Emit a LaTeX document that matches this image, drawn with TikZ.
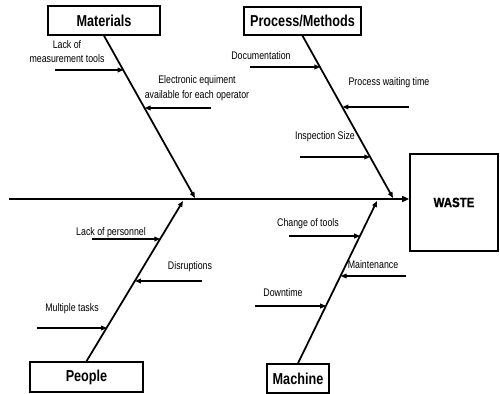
\documentclass[tikz,border=0pt]{standalone}
\usepackage{fontspec}
\setmainfont{Liberation Sans}
\newfontfamily\narrowfont{Liberation Sans}[FakeStretch=0.8]
\newfontfamily\heavyfont{Liberation Sans Bold}[FakeStretch=0.85,FakeBold=1.2]
\usetikzlibrary{arrows.meta}

\begin{document}
\begin{tikzpicture}[x=0.03cm,y=-0.03cm]
\tikzstyle{every node}+=[inner sep=0pt]
\tikzstyle{catbox}=[draw=black,line width=1.3pt,font=\narrowfont\bfseries\fontsize{13.5}{15}\selectfont]
\tikzstyle{bone}=[line width=1.5pt,-{Triangle[length=5pt,width=4pt]}]
\tikzstyle{cause}=[line width=1pt,-{Triangle[length=5pt,width=4pt]}]
\tikzstyle{lbl}=[align=center,font=\narrowfont\fontsize{9.4}{12.5}\selectfont]
\useasboundingbox (0,0) rectangle (500,394);
% boxes
\node [catbox,minimum width=3.36cm,minimum height=0.87cm] (mat) at (104,20.5) {Materials};
\node [catbox,minimum width=3.51cm,minimum height=0.84cm] (proc) at (302.5,21) {Process/Methods};
\node [catbox,minimum width=3.39cm,minimum height=0.9cm] (peop) at (86.5,377) {People};
\node [catbox,minimum width=1.86cm,minimum height=0.87cm] (mach) at (298,378.5) {Machine};
\node [draw=black,line width=1.3pt,minimum width=2.64cm,minimum height=2.91cm,font=\heavyfont\fontsize{11.5}{13}\selectfont] (waste) at (454,202.5) {WASTE};
% spine
\coordinate (tail) at (9,199);
\draw [line width=2pt,-{Triangle[length=6pt,width=5pt]}] (tail) -- (tail -| waste.west);
% bones
\coordinate (mhead) at (195,198);
\coordinate (phead) at (393,198);
\coordinate (pehead) at (183,201);
\coordinate (mahead) at (377,201);
\draw [bone] (mat.south) -- (mhead);
\draw [bone] (proc.south) -- (phead);
\draw [bone] (peop.north) -- (pehead);
\draw [bone] (mach.north) -- (mahead);
% materials
\coordinate (m1s) at (55,70);
\coordinate (m1) at (123.5,70);
\coordinate (m2s) at (211,108);
\coordinate (m2) at (144.7,108);
\draw [cause] (m1s) -- (m1);
\draw [cause] (m2s) -- (m2);
\node [lbl] (m1l) at (67,51.5) {Lack of\\measurement tools};
\node [lbl] (m2l) at (197,88) {Electronic equiment\\available for each operator};
% process/methods
\coordinate (p1s) at (250,67);
\coordinate (p1) at (320.3,67);
\coordinate (p2s) at (409,107);
\coordinate (p2) at (342.5,107);
\coordinate (p3s) at (300,157);
\coordinate (p3) at (370.2,157);
\draw [cause] (p1s) -- (p1);
\draw [cause] (p2s) -- (p2);
\draw [cause] (p3s) -- (p3);
\node [lbl] (p1l) at (261,56) {Documentation};
\node [lbl] (p2l) at (389,83) {Process waiting time};
\node [lbl] (p3l) at (325,137) {Inspection Size};
% people
\coordinate (pe1s) at (92,239);
\coordinate (pe1) at (160.2,239);
\coordinate (pe2s) at (202,281);
\coordinate (pe2) at (135,281);
\coordinate (pe3s) at (37,328);
\coordinate (pe3) at (106.9,328);
\draw [cause] (pe1s) -- (pe1);
\draw [cause] (pe2s) -- (pe2);
\draw [cause] (pe3s) -- (pe3);
\node [lbl] (pe1l) at (111,233) {Lack of personnel};
\node [lbl] (pe2l) at (190,267) {Disruptions};
\node [lbl] (pe3l) at (72,309) {Multiple tasks};
% machine
\coordinate (ma1s) at (289,236);
\coordinate (ma1) at (360.1,236);
\coordinate (ma2s) at (406,276);
\coordinate (ma2) at (340.7,276);
\coordinate (ma3s) at (255,306);
\coordinate (ma3) at (326.1,306);
\draw [cause] (ma1s) -- (ma1);
\draw [cause] (ma2s) -- (ma2);
\draw [cause] (ma3s) -- (ma3);
\node [lbl] (ma1l) at (308,224) {Change of tools};
\node [lbl] (ma2l) at (373,265) {Maintenance};
\node [lbl] (ma3l) at (283,293) {Downtime};
\end{tikzpicture}
\end{document}
